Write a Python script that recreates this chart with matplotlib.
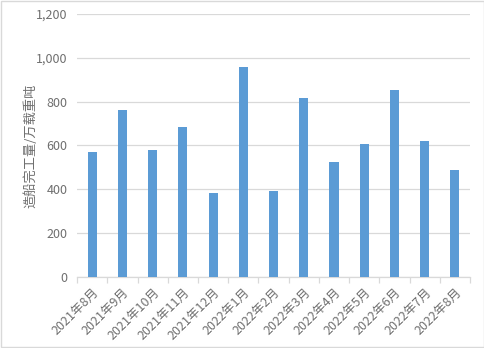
import matplotlib.pyplot as plt
from matplotlib.ticker import FuncFormatter, FixedLocator

plt.rcParams['font.family'] = ['Noto Sans CJK SC', 'DejaVu Sans']

months = ["2021年8月", "2021年9月", "2021年10月", "2021年11月", "2021年12月",
          "2022年1月", "2022年2月", "2022年3月", "2022年4月", "2022年5月",
          "2022年6月", "2022年7月", "2022年8月"]
output = [570, 762, 579, 684, 383, 958, 392, 817, 525, 607, 853, 620, 488]

gray = "#6f6f6f"
grid = "#d9d9d9"

fig = plt.figure(figsize=(4.85, 3.48), dpi=100)
ax = fig.add_axes([0.159, 0.204, 0.81, 0.756])

x = list(range(len(months)))
ax.bar(x, output, width=0.3, color="#5b9bd5", zorder=3)

ax.set_xlim(-0.5, len(months) - 0.5)
ax.set_ylim(0, 1200)
ax.set_yticks(range(0, 1201, 200))
ax.yaxis.set_major_formatter(FuncFormatter(lambda v, p: f"{int(v):,}"))
ax.grid(axis="y", color=grid, linewidth=0.9, zorder=0)

ax.set_xticks(x)
ax.set_xticklabels(months, rotation=45, ha="right", rotation_mode="anchor")
ax.xaxis.set_minor_locator(FixedLocator([i - 0.5 for i in range(len(months) + 1)]))
ax.tick_params(axis="x", which="major", length=0, pad=6, labelsize=9, labelcolor=gray)
ax.tick_params(axis="x", which="minor", length=4, color=grid, width=0.9)
ax.tick_params(axis="y", length=0, pad=7, labelsize=9, labelcolor=gray)

for s in ["top", "right", "left"]:
    ax.spines[s].set_visible(False)
ax.spines["bottom"].set_color(grid)
ax.spines["bottom"].set_linewidth(0.9)

ax.set_ylabel("造船完工量/万载重吨", fontsize=9.5, color=gray, labelpad=-1)

fig.patches.append(plt.Rectangle((0.002, 0.002), 0.996, 0.996, transform=fig.transFigure,
                                 fill=False, edgecolor=grid, linewidth=1))

fig.savefig("out.png", dpi=100)
